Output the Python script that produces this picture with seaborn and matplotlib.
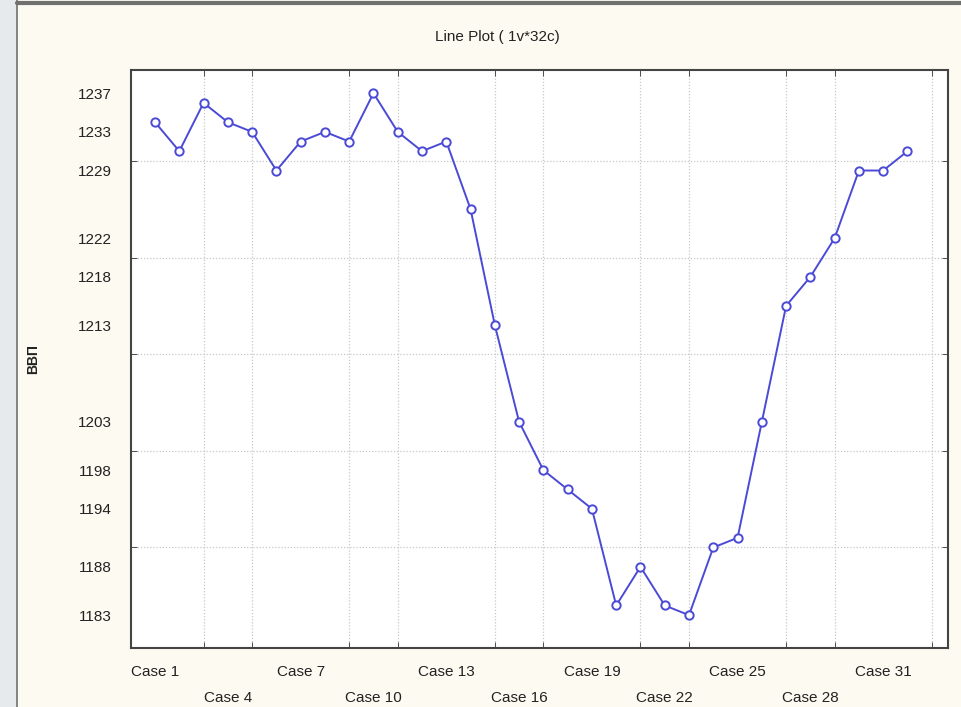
import matplotlib
matplotlib.use("Agg")
import matplotlib.pyplot as plt
import matplotlib.patches as mpatches
import seaborn as sns
import pandas as pd

# Data
cases = list(range(1, 33))
vvp = [1234, 1231, 1236, 1234, 1233, 1229, 1232, 1233, 1232, 1237,
       1233, 1231, 1232, 1225, 1213, 1203, 1198, 1196, 1194, 1184,
       1188, 1184, 1183, 1190, 1191, 1203, 1215, 1218, 1222, 1229,
       1229, 1231]
y_labels = [1237, 1233, 1229, 1222, 1218, 1213, 1203, 1198, 1194, 1188, 1183]
y_grid = [1190, 1200, 1210, 1220, 1230]
x_label_cases = [1, 4, 7, 10, 13, 16, 19, 22, 25, 28, 31]
x_grid_cases = list(range(1, 34, 2))

df = pd.DataFrame({"case": cases, "ВВП": vvp})

sns.set_style("white")
plt.rcParams["font.family"] = ["Liberation Sans", "DejaVu Sans"]

fig = plt.figure(figsize=(9.61, 7.07), dpi=100, facecolor="#fdfaf1")
# left grey strip and top border like the screenshot frame
fig.patches.append(mpatches.Rectangle((0, 0), 17 / 961, 1, transform=fig.transFigure,
                                      facecolor="#e6eaec", edgecolor="none", zorder=0))
fig.lines.append(plt.Line2D([17 / 961, 17 / 961], [0, 1], transform=fig.transFigure,
                            color="#707070", lw=1.2))
fig.lines.append(plt.Line2D([17 / 961, 1], [0.996, 0.996], transform=fig.transFigure,
                            color="#707070", lw=3))

ax = fig.add_axes([131 / 961, 1 - 648 / 707, (948 - 131) / 961, (648 - 70) / 707])
ax.set_facecolor("white")

sns.lineplot(data=df, x="case", y="ВВП", ax=ax, color="#4a4ad6", lw=1.4,
             marker="o", markersize=6, markerfacecolor="white",
             markeredgecolor="#4a4ad6", markeredgewidth=1.4, zorder=3)

ax.set_xlim(0.01, 33.67)
ax.set_ylim(1179.6, 1239.4)

# grid positions as minor ticks, label positions as major ticks
ax.set_xticks(x_grid_cases, minor=True)
ax.set_yticks(y_grid, minor=True)
ax.set_xticks(x_label_cases)
ax.set_xticklabels([("Case %d" % c) if i % 2 == 0 else ("\nCase %d" % c)
                    for i, c in enumerate(x_label_cases)], linespacing=2.1)
ax.set_yticks(y_labels)
ax.set_yticklabels([str(v) for v in y_labels])

ax.grid(False)
ax.grid(which="minor", color="#c8c8c8", linestyle=(0, (1, 1.5)), lw=0.9)
ax.tick_params(which="major", length=0, labelsize=11, colors="#222222")
ax.tick_params(axis="x", which="major", pad=12)
ax.tick_params(axis="y", which="major", pad=14)
ax.tick_params(which="minor", length=4, direction="in", color="#333333",
               top=True, right=True, bottom=True, left=True)

for sp in ax.spines.values():
    sp.set_visible(True)
    sp.set_color("#444444")
    sp.set_linewidth(1.5)

ax.set_xlabel("")
ax.set_ylabel("ВВП", fontsize=10, fontweight="bold", color="#222222")
ax.yaxis.set_label_coords((40 - 131) / 817, 0.5)
fig.text(497 / 961, 1 - 37 / 707, "Line Plot ( 1v*32c)", ha="center", va="center",
         fontsize=11, color="#222222")

fig.savefig("out.png", dpi=100, facecolor=fig.get_facecolor())
